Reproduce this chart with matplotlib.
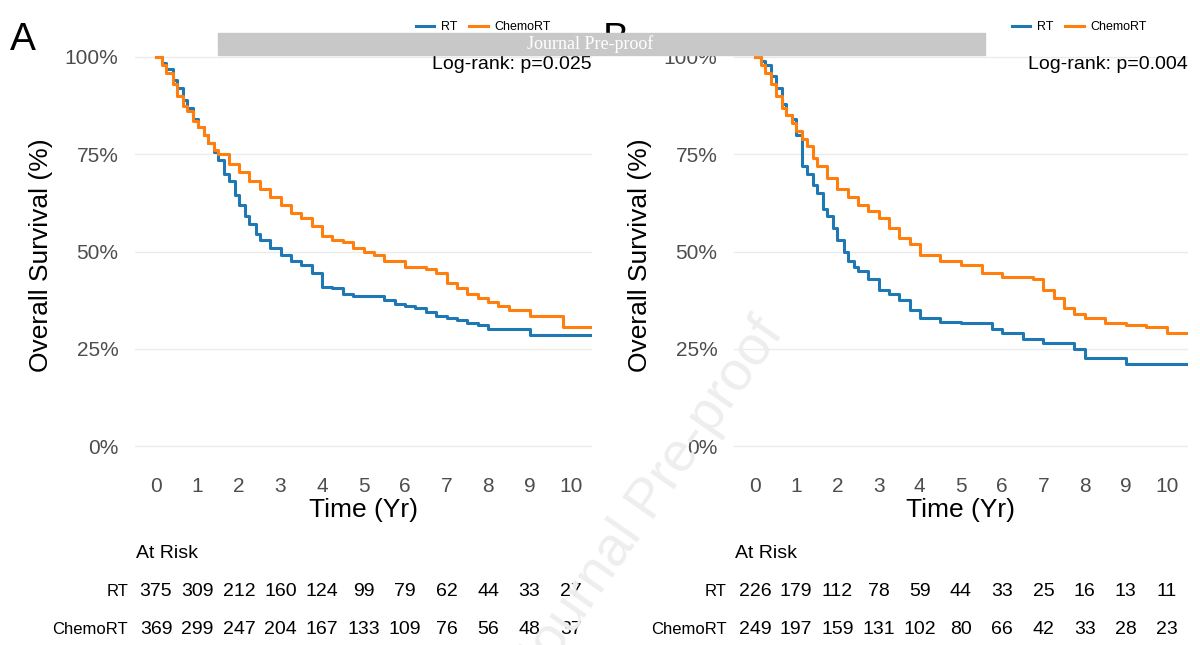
import matplotlib
matplotlib.use("Agg")
from matplotlib import pyplot as plt
import matplotlib.transforms as mtransforms

plt.rcParams['font.family'] = ['Liberation Sans', 'DejaVu Sans']

years = [0, 1, 2, 3, 4, 5, 6, 7, 8, 9, 10]

# survival curves (time in years, survival fraction)
tA_rt = [0, 0.15, 0.25, 0.4, 0.5, 0.65, 0.75, 0.9, 1.0, 1.15, 1.25, 1.4, 1.5, 1.65, 1.75, 1.9, 2.0, 2.15, 2.25, 2.4, 2.5, 2.75,
         3.0, 3.25, 3.5, 3.75, 4.0, 4.25, 4.5, 4.75, 5.0, 5.5, 5.75, 6.0, 6.25, 6.5, 6.75, 7.0, 7.25, 7.5, 7.75, 8.0, 9.0, 10.45]
sA_rt = [1.0, 0.985, 0.97, 0.94, 0.92, 0.89, 0.87, 0.84, 0.82, 0.80, 0.78, 0.755, 0.735, 0.70, 0.68, 0.645, 0.62, 0.59, 0.57, 0.545, 0.53, 0.51,
         0.49, 0.475, 0.465, 0.445, 0.41, 0.405, 0.39, 0.385, 0.385, 0.375, 0.365, 0.36, 0.355, 0.345, 0.335, 0.33, 0.325, 0.315, 0.31, 0.30, 0.285, 0.285]
tA_chemo = [0, 0.15, 0.25, 0.4, 0.5, 0.65, 0.75, 0.9, 1.0, 1.15, 1.25, 1.4, 1.5, 1.75, 2.0, 2.25, 2.5, 2.75, 3.0, 3.25, 3.5, 3.75,
            4.0, 4.25, 4.5, 4.75, 5.0, 5.25, 5.5, 6.0, 6.5, 6.75, 7.0, 7.25, 7.5, 7.75, 8.0, 8.25, 8.5, 9.0, 9.8, 10.45]
sA_chemo = [1.0, 0.98, 0.96, 0.93, 0.90, 0.875, 0.86, 0.835, 0.82, 0.80, 0.78, 0.76, 0.75, 0.725, 0.704, 0.68, 0.66, 0.64, 0.62, 0.60, 0.585, 0.565,
            0.54, 0.53, 0.525, 0.51, 0.50, 0.49, 0.475, 0.46, 0.455, 0.445, 0.42, 0.405, 0.39, 0.38, 0.37, 0.36, 0.35, 0.335, 0.305, 0.305]

tB_rt = [0, 0.15, 0.25, 0.4, 0.5, 0.65, 0.75, 0.9, 1.0, 1.15, 1.25, 1.4, 1.5, 1.65, 1.75, 1.9, 2.0, 2.15, 2.25, 2.4, 2.5, 2.75,
         3.0, 3.25, 3.5, 3.75, 4.0, 4.5, 5.0, 5.75, 6.0, 6.5, 7.0, 7.75, 8.0, 9.0, 10.45]
sB_rt = [1.0, 0.99, 0.98, 0.95, 0.92, 0.88, 0.85, 0.84, 0.80, 0.72, 0.70, 0.67, 0.65, 0.61, 0.59, 0.56, 0.53, 0.50, 0.475, 0.46, 0.45, 0.43,
         0.40, 0.39, 0.375, 0.35, 0.33, 0.32, 0.315, 0.30, 0.29, 0.275, 0.265, 0.25, 0.225, 0.21, 0.21]
tB_chemo = [0, 0.15, 0.25, 0.4, 0.5, 0.65, 0.75, 0.9, 1.0, 1.15, 1.25, 1.4, 1.5, 1.75, 2.0, 2.25, 2.5, 2.75, 3.0, 3.25, 3.5, 3.75,
            4.0, 4.5, 5.0, 5.5, 6.0, 6.75, 7.0, 7.25, 7.5, 7.75, 8.0, 8.5, 9.0, 9.5, 10.0, 10.45]
sB_chemo = [1.0, 0.98, 0.96, 0.93, 0.90, 0.87, 0.85, 0.83, 0.81, 0.79, 0.77, 0.74, 0.72, 0.69, 0.66, 0.64, 0.62, 0.605, 0.585, 0.56, 0.535, 0.52,
            0.49, 0.475, 0.465, 0.445, 0.435, 0.43, 0.40, 0.38, 0.355, 0.34, 0.33, 0.315, 0.31, 0.305, 0.29, 0.29]

riskA_rt = [375, 309, 212, 160, 124, 99, 79, 62, 44, 33, 27]
riskA_chemo = [369, 299, 247, 204, 167, 133, 109, 76, 56, 48, 37]
riskB_rt = [226, 179, 112, 78, 59, 44, 33, 25, 16, 13, 11]
riskB_chemo = [249, 197, 159, 131, 102, 80, 66, 42, 33, 28, 23]

BLUE = '#1f77b4'
ORANGE = '#ff7f0e'
W, H = 1200, 645

fig = plt.figure(figsize=(12, 6.45), dpi=100)


def panel(left_px, right_px, zero_px, ten_px, curves, pval, risk_rt, risk_chemo, lab_x, letter, letter_x):
    ax = fig.add_axes([left_px / W, (645 - 460) / H, (right_px - left_px) / W, 410 / H])
    per = (ten_px - zero_px) / 10
    ax.set_xlim((left_px - zero_px) / per, (right_px - zero_px) / per)
    ax.set_ylim(-14 / 389, 1 + 7 / 389)
    (t1, s1), (t2, s2) = curves
    ax.plot(t1, s1, drawstyle='steps-post', color=BLUE, lw=2.2, label='RT')
    ax.plot(t2, s2, drawstyle='steps-post', color=ORANGE, lw=2.2, label='ChemoRT')
    ax.set_yticks([0, 0.25, 0.5, 0.75, 1.0])
    ax.set_yticklabels(['0%', '25%', '50%', '75%', '100%'])
    ax.set_xticks(years)
    ax.tick_params(length=0, labelsize=15, labelcolor='#4d4d4d', pad=12)
    ax.grid(axis='y', color='#ebebeb', lw=1)
    for s in ax.spines.values():
        s.set_visible(False)
    ax.set_xlabel('Time (Yr)', fontsize=19, labelpad=2)
    ax.set_ylabel('Overall Survival (%)', fontsize=19, labelpad=8)
    ax.text(1.0, 0.985, 'Log-rank: p=%s' % pval, transform=ax.transAxes,
            ha='right', va='top', fontsize=14)
    ax.legend(loc='upper right', bbox_to_anchor=(right_px / W - 0.025, 0.985), bbox_transform=fig.transFigure,
              ncol=2, frameon=False, fontsize=9, handlelength=1.5, columnspacing=1, handletextpad=0.5)
    tr = mtransforms.blended_transform_factory(ax.transData, fig.transFigure)
    fig.text((lab_x + 8) / W, 1 - 553 / H, 'At Risk', fontsize=14, va='center')
    for vals, name, y in [(risk_rt, 'RT', 592), (risk_chemo, 'ChemoRT', 630)]:
        fig.text(lab_x / W, 1 - y / H, name, fontsize=12, ha='right', va='center')
        for yr, v in zip(years, vals):
            ax.text(yr, 1 - y / H, str(v), transform=tr, fontsize=14, ha='center', va='center')
    fig.text(letter_x / W, 1 - 40 / H, letter, fontsize=28, va='center')
    return ax


panel(135, 592, 156, 571, [(tA_rt, sA_rt), (tA_chemo, sA_chemo)], '0.025',
      riskA_rt, riskA_chemo, 128, 'A', 10)
panel(734, 1188, 755, 1167, [(tB_rt, sB_rt), (tB_chemo, sB_chemo)], '0.004',
      riskB_rt, riskB_chemo, 727, 'B', 603)

# watermark
fig.patches.append(plt.Rectangle((218 / W, 1 - 55 / H), 767 / W, 22 / H, transform=fig.transFigure,
                                 color='#c8c8c8', zorder=10))
fig.text(590 / W, 1 - 44 / H, 'Journal Pre-proof', fontsize=13, color='white', family='Liberation Serif',
         ha='center', va='center', zorder=11)
fig.text(650 / W, 1 - 500 / H, 'Journal Pre-proof', fontsize=40, color='#eeeeee', family='Liberation Sans',
         ha='center', va='center', rotation=55, zorder=0)

fig.savefig('out.png', dpi=100)
